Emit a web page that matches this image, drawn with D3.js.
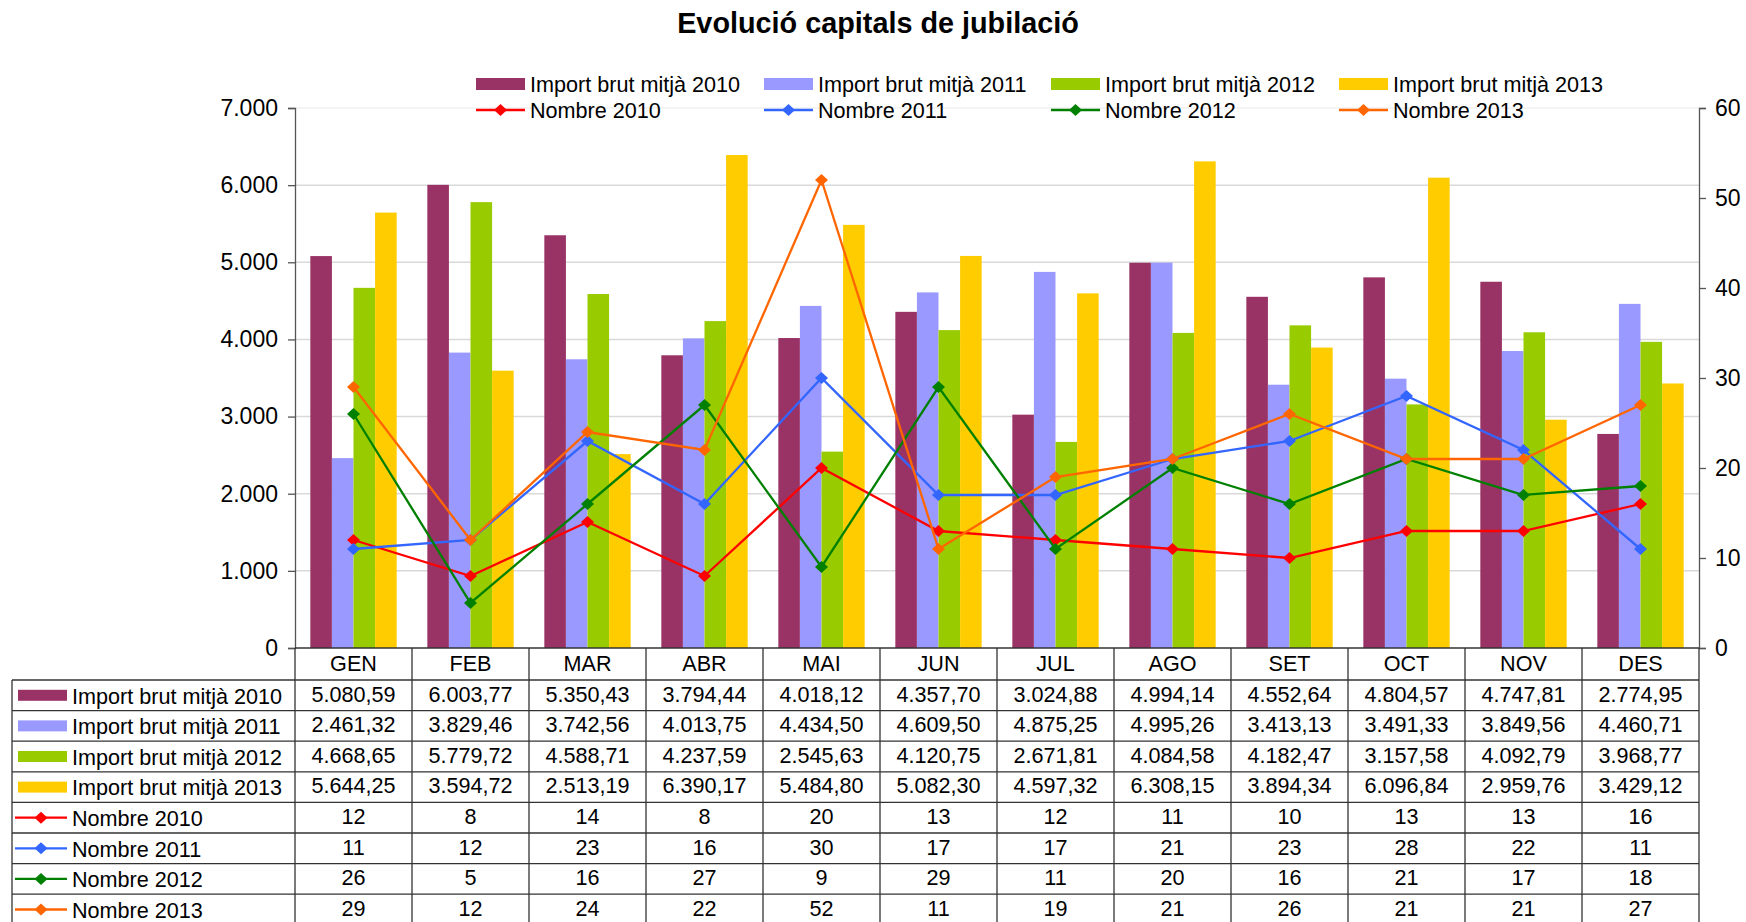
<!DOCTYPE html>
<html>
<head>
<meta charset="utf-8">
<script src="https://cdn.jsdelivr.net/npm/d3@7"></script>
<style>
  html, body { margin: 0; padding: 0; background: #fff; }
  svg { display: block; font-family: "Liberation Sans", Arial, sans-serif; }
</style>
</head>
<body>
<svg id="chart" width="1746" height="922"></svg>
<script>
const months = ["GEN","FEB","MAR","ABR","MAI","JUN","JUL","AGO","SET","OCT","NOV","DES"];
const import2010 = [5080.59, 6003.77, 5350.43, 3794.44, 4018.12, 4357.70, 3024.88, 4994.14, 4552.64, 4804.57, 4747.81, 2774.95];
const import2011 = [2461.32, 3829.46, 3742.56, 4013.75, 4434.50, 4609.50, 4875.25, 4995.26, 3413.13, 3491.33, 3849.56, 4460.71];
const import2012 = [4668.65, 5779.72, 4588.71, 4237.59, 2545.63, 4120.75, 2671.81, 4084.58, 4182.47, 3157.58, 4092.79, 3968.77];
const import2013 = [5644.25, 3594.72, 2513.19, 6390.17, 5484.80, 5082.30, 4597.32, 6308.15, 3894.34, 6096.84, 2959.76, 3429.12];
const nombre2010 = [12, 8, 14, 8, 20, 13, 12, 11, 10, 13, 13, 16];
const nombre2011 = [11, 12, 23, 16, 30, 17, 17, 21, 23, 28, 22, 11];
const nombre2012 = [26, 5, 16, 27, 9, 29, 11, 20, 16, 21, 17, 18];
const nombre2013 = [29, 12, 24, 22, 52, 11, 19, 21, 26, 21, 21, 27];
const leftTicks = [0, 1000, 2000, 3000, 4000, 5000, 6000, 7000];
const rightTicks = [0, 10, 20, 30, 40, 50, 60];
const title = "Evolució capitals de jubilació";

const barSeries = [
  {name: "Import brut mitjà 2010", values: import2010, color: "#993366"},
  {name: "Import brut mitjà 2011", values: import2011, color: "#9999FF"},
  {name: "Import brut mitjà 2012", values: import2012, color: "#99CC00"},
  {name: "Import brut mitjà 2013", values: import2013, color: "#FFCC00"}
];
const lineSeries = [
  {name: "Nombre 2010", values: nombre2010, color: "#FF0000"},
  {name: "Nombre 2011", values: nombre2011, color: "#3366FF"},
  {name: "Nombre 2012", values: nombre2012, color: "#008000"},
  {name: "Nombre 2013", values: nombre2013, color: "#FF6600"}
];

const svg = d3.select("#chart");
const FS = 21.6;
const plot = {left: 295, right: 1699, top: 108, bottom: 648};

const loc = d3.formatLocale({decimal: ",", thousands: ".", grouping: [3], currency: ["", "€"]});
const fmtMoney = loc.format(",.2f");
const fmtAxis = loc.format(",.0f");

const x = d3.scaleBand().domain(months).range([plot.left, plot.right]).padding(0);
const xInner = d3.scaleBand().domain(barSeries.map(s => s.name))
  .range([0, x.bandwidth()]).paddingInner(0).paddingOuter(0.71);
const yL = d3.scaleLinear().domain([0, 7000]).range([plot.bottom, plot.top]);
const yR = d3.scaleLinear().domain([0, 60]).range([plot.bottom, plot.top]);

// title
svg.append("text").attr("x", 878).attr("y", 33).attr("text-anchor", "middle")
  .attr("font-weight", "bold").attr("font-size", 28.8).attr("fill", "#000").text(title);

// gridlines
svg.append("g").selectAll("line").data(leftTicks.filter(d => d > 0)).join("line")
  .attr("x1", plot.left).attr("x2", plot.right)
  .attr("y1", d => yL(d)).attr("y2", d => yL(d))
  .attr("stroke", d => d === 7000 ? "#f0f0f0" : "#d9d9d9").attr("stroke-width", 1.5);

// bars
const barG = svg.append("g");
barSeries.forEach(s => {
  barG.append("g").selectAll("rect").data(s.values).join("rect")
    .attr("x", (d, i) => x(months[i]) + xInner(s.name))
    .attr("width", xInner.bandwidth())
    .attr("y", d => yL(d))
    .attr("height", d => plot.bottom - yL(d))
    .attr("fill", s.color);
});

// lines
const diamond = "M0,-6L6.5,0L0,6L-6.5,0Z";
const lineG = svg.append("g");
lineSeries.forEach(s => {
  const line = d3.line().x((d, i) => x(months[i]) + x.bandwidth() / 2).y(d => yR(d));
  lineG.append("path").datum(s.values).attr("d", line)
    .attr("fill", "none").attr("stroke", s.color).attr("stroke-width", 2.3);
  lineG.append("g").selectAll("path").data(s.values).join("path")
    .attr("d", diamond)
    .attr("transform", (d, i) => `translate(${x(months[i]) + x.bandwidth() / 2},${yR(d)})`)
    .attr("fill", s.color);
});

// axes
const axL = svg.append("g").attr("transform", `translate(${plot.left},0)`)
  .call(d3.axisLeft(yL).tickValues(leftTicks).tickFormat(d => fmtAxis(d)).tickSize(7).tickPadding(10));
const axR = svg.append("g").attr("transform", `translate(${plot.right},0)`)
  .call(d3.axisRight(yR).tickValues(rightTicks).tickSize(7).tickPadding(9));
[axL, axR].forEach(a => {
  a.select(".domain").attr("stroke", "#555").attr("stroke-width", 1.3);
  a.selectAll(".tick line").attr("stroke", "#555").attr("stroke-width", 1.3);
  a.selectAll(".tick text").attr("font-size", 23).attr("fill", "#000")
    .attr("font-family", "Liberation Sans, Arial, sans-serif");
});

// legend
const legendCols = [476, 764, 1051, 1339];
const legend = svg.append("g");
barSeries.forEach((s, i) => {
  const g = legend.append("g").attr("transform", `translate(${legendCols[i]},84)`);
  g.append("rect").attr("x", 0).attr("y", -6).attr("width", 49).attr("height", 12).attr("fill", s.color);
  g.append("text").attr("x", 54).attr("y", 7.5).attr("font-size", FS).attr("fill", "#000").text(s.name);
});
lineSeries.forEach((s, i) => {
  const g = legend.append("g").attr("transform", `translate(${legendCols[i]},110)`);
  g.append("line").attr("x1", 0).attr("x2", 49).attr("stroke", s.color).attr("stroke-width", 2.3);
  g.append("path").attr("d", diamond).attr("transform", "translate(24.5,0)").attr("fill", s.color);
  g.append("text").attr("x", 54).attr("y", 7.5).attr("font-size", FS).attr("fill", "#000").text(s.name);
});

// data table
const rowH = 30.6;
const headerTop = plot.bottom, headerBottom = 680;
const tableLeft = 12;
const rows = barSeries.map(s => ({...s, type: "bar", fmt: fmtMoney}))
  .concat(lineSeries.map(s => ({...s, type: "line", fmt: d => String(d)})));
const tableBottom = headerBottom + rows.length * rowH;
const tbl = svg.append("g");
const stroke = "#333";

// month headers
tbl.selectAll("text.month").data(months).join("text")
  .attr("class", "month")
  .attr("x", d => x(d) + x.bandwidth() / 2).attr("y", headerBottom - 9)
  .attr("text-anchor", "middle").attr("font-size", FS).attr("fill", "#000").text(d => d);

// horizontal lines
tbl.append("line").attr("x1", plot.left).attr("x2", plot.right)
  .attr("y1", plot.bottom).attr("y2", plot.bottom).attr("stroke", stroke).attr("stroke-width", 1.3);
for (let r = 0; r <= rows.length; r++) {
  const yy = headerBottom + r * rowH;
  tbl.append("line").attr("x1", tableLeft).attr("x2", plot.right)
    .attr("y1", yy).attr("y2", yy).attr("stroke", stroke).attr("stroke-width", 1.3);
}
// vertical lines
tbl.append("line").attr("x1", tableLeft).attr("x2", tableLeft)
  .attr("y1", headerBottom).attr("y2", tableBottom).attr("stroke", stroke).attr("stroke-width", 1.3);
months.forEach(m => {
  tbl.append("line").attr("x1", x(m)).attr("x2", x(m))
    .attr("y1", headerTop).attr("y2", tableBottom).attr("stroke", stroke).attr("stroke-width", 1.3);
});
tbl.append("line").attr("x1", plot.right).attr("x2", plot.right)
  .attr("y1", headerTop).attr("y2", tableBottom).attr("stroke", stroke).attr("stroke-width", 1.3);

rows.forEach((s, r) => {
  const top = headerBottom + r * rowH;
  const cy = top + rowH / 2;
  if (s.type === "bar") {
    tbl.append("rect").attr("x", 18).attr("y", cy - 5.5).attr("width", 49).attr("height", 11).attr("fill", s.color);
  } else {
    tbl.append("line").attr("x1", 15).attr("x2", 67).attr("y1", cy).attr("y2", cy)
      .attr("stroke", s.color).attr("stroke-width", 2.3);
    tbl.append("path").attr("d", diamond).attr("transform", `translate(41,${cy})`).attr("fill", s.color);
  }
  tbl.append("text").attr("x", 72).attr("y", top + rowH - 7)
    .attr("font-size", FS).attr("fill", "#000").text(s.name);
  tbl.append("g").selectAll("text").data(s.values).join("text")
    .attr("x", (d, i) => x(months[i]) + x.bandwidth() / 2)
    .attr("y", top + rowH - 9)
    .attr("text-anchor", "middle").attr("font-size", FS).attr("fill", "#000")
    .text(d => s.fmt(d));
});
</script>
</body>
</html>
